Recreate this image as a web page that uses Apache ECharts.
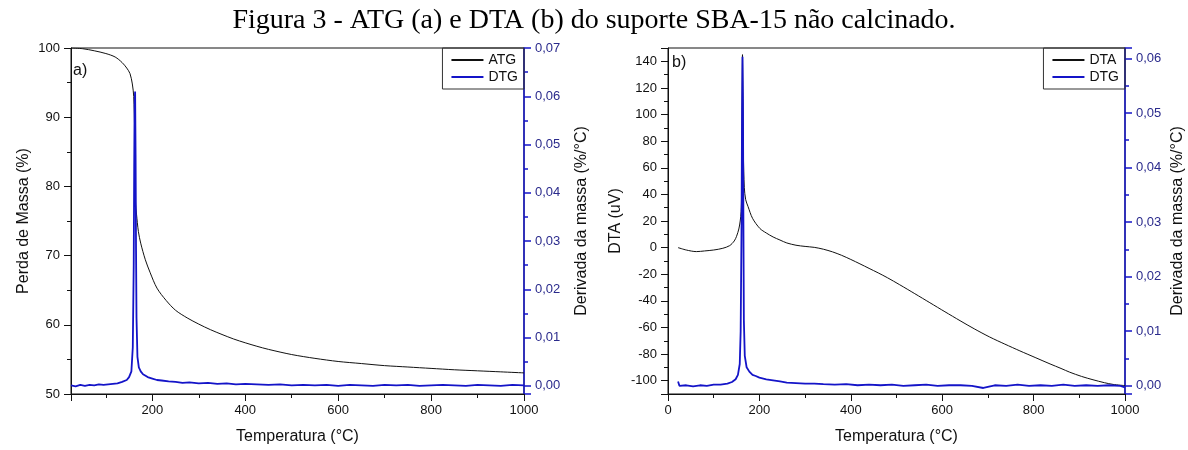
<!DOCTYPE html>
<html>
<head>
<meta charset="utf-8">
<script src="https://cdn.jsdelivr.net/npm/echarts@6/dist/echarts.min.js"></script>
<style>
html,body{margin:0;padding:0;background:#fff;}
#chart{width:1188px;height:450px;}
</style>
</head>
<body>
<div id="chart"></div>
<script>
// ---------- DATA ----------
const titleText = 'Figura 3 - ATG (a) e DTA (b) do suporte SBA-15 não calcinado.';

// (a) ATG curve
const atgTemp = [25, 50, 75, 100, 120, 135, 145, 152, 157, 160, 162, 163, 164, 166, 170, 175, 185, 195, 210, 230, 250, 275, 300, 325, 350, 375, 400, 425, 450, 500, 550, 600, 650, 700, 750, 800, 850, 900, 950, 1000];
const atgVal  = [100.0, 99.9, 99.6, 99.2, 98.7, 97.9, 97.1, 96.3, 94.8, 93.0, 88.0, 82.0, 77.5, 76.0, 73.5, 71.8, 69.4, 67.6, 65.3, 63.5, 62.1, 61.0, 60.1, 59.3, 58.6, 57.95, 57.4, 56.9, 56.45, 55.7, 55.15, 54.7, 54.4, 54.1, 53.9, 53.7, 53.5, 53.35, 53.2, 53.05];

// (a) DTG curve
const dtgATemp = [25, 35, 45, 55, 65, 75, 85, 95, 105, 115, 125, 135, 145, 150, 155, 158, 160, 161, 162, 163, 164, 165, 166, 168, 171, 175, 180, 190, 200, 210, 220, 235, 250, 265, 280, 300, 320, 340, 360, 380, 400, 425, 450, 475, 500, 525, 550, 575, 600, 625, 650, 675, 700, 725, 750, 775, 800, 825, 850, 875, 900, 925, 950, 975, 1000];
const dtgAVal  = [0.0001, -0.0001, 0.0002, 0.0000, 0.0002, 0.0001, 0.0003, 0.0002, 0.0003, 0.0004, 0.0005, 0.0008, 0.0012, 0.0018, 0.0030, 0.0080, 0.0250, 0.0450, 0.0590, 0.0610, 0.0480, 0.0280, 0.0140, 0.0060, 0.0038, 0.0030, 0.0024, 0.0018, 0.0015, 0.0012, 0.0011, 0.0009, 0.0008, 0.0006, 0.0007, 0.0005, 0.0006, 0.0004, 0.0005, 0.0003, 0.0004, 0.0003, 0.0002, 0.0003, 0.0001, 0.0002, 0.0001, 0.0002, 0.0000, 0.0002, 0.0001, 0.0000, 0.0002, 0.0001, 0.0002, 0.0000, 0.0001, 0.0002, 0.0001, 0.0000, 0.0002, 0.0001, 0.0000, 0.0002, 0.0001];

// (b) DTA curve
const dtaTemp = [22, 40, 62, 80, 100, 120, 135, 145, 150, 155, 158, 160, 161, 162, 163, 164, 165, 167, 170, 175, 185, 201, 215, 230, 245, 260, 280, 300, 320, 340, 360, 380, 400, 420, 440, 460, 480, 507, 540, 573, 606, 639, 670, 704, 737, 770, 805, 836, 860, 879, 905, 930, 955, 974, 1000];
const dtaVal  = [0.0, -1.8, -3.0, -2.5, -1.8, -0.5, 1.5, 5.0, 8.5, 14.0, 20.0, 27.0, 40.0, 90.0, 145.0, 110.0, 70.0, 45.0, 36.0, 31.0, 22.0, 14.4, 11.0, 8.0, 5.7, 3.5, 1.8, 0.9, 0.2, -1.2, -3.2, -5.8, -8.9, -12.2, -15.6, -19.0, -22.6, -27.9, -34.6, -41.4, -48.2, -54.9, -61.0, -67.2, -72.5, -77.6, -82.8, -87.4, -90.8, -93.6, -96.8, -99.3, -101.5, -102.8, -103.7];

// (b) DTG curve
const dtgBTemp = [22, 25, 40, 55, 70, 85, 100, 115, 130, 140, 148, 153, 157, 159, 161, 162, 163, 164, 165, 166, 168, 172, 178, 185, 192, 200, 215, 230, 245, 260, 280, 300, 320, 340, 365, 390, 415, 440, 465, 490, 515, 540, 565, 590, 615, 640, 665, 690, 715, 740, 765, 790, 815, 840, 865, 890, 915, 940, 965, 990, 1000];
const dtgBVal  = [0.0008, 0.0000, 0.0001, -0.0001, 0.0001, 0.0000, 0.0002, 0.0002, 0.0004, 0.0007, 0.0012, 0.0020, 0.0040, 0.0100, 0.0300, 0.0500, 0.0603, 0.0520, 0.0300, 0.0120, 0.0055, 0.0034, 0.0026, 0.0020, 0.0018, 0.0015, 0.0012, 0.0010, 0.0008, 0.0006, 0.0005, 0.0004, 0.0004, 0.0003, 0.0002, 0.0003, 0.0001, 0.0002, 0.0001, 0.0002, 0.0000, 0.0001, 0.0002, 0.0000, 0.0001, 0.0001, 0.0000, -0.0004, 0.0001, 0.0000, 0.0002, 0.0000, 0.0001, 0.0000, 0.0002, 0.0000, 0.0001, 0.0000, 0.0001, 0.0000, -0.0003];

// Axis labels / names
const xName = 'Temperatura (°C)';
const yNameA = 'Perda de Massa (%)';
const yNameB = 'DTA (uV)';
const y2Name = 'Derivada da massa (%/°C)';

// ---------- CHART ----------
const zip = (a, b) => a.map((t, i) => [t, b[i]]);
const FONT = '"Liberation Sans", Arial, sans-serif';
const BLUE = '#1414c8';
const BLUE_TXT = '#2a2a8c';
const BLACK = '#111';

const commaFmt = v => {
  const k = v / 0.01;
  if (Math.abs(k - Math.round(k)) > 1e-6) return '';
  return (Math.round(k) / 100).toFixed(2).replace('.', ',');
};

function xAxisCfg(grid, min, showFn) {
  return {
    type: 'value', gridIndex: grid, min: min, max: 1000,
    minInterval: 200, maxInterval: 200,
    name: xName, nameLocation: 'middle', nameGap: 35,
    nameTextStyle: { fontFamily: FONT, fontSize: 16, color: BLACK },
    axisLine: { show: true, onZero: false, lineStyle: { color: BLACK, width: 1 } },
    axisTick: { show: true, length: 7, lineStyle: { color: BLACK } },
    minorTick: { show: true, splitNumber: 2, length: 4, lineStyle: { color: BLACK } },
    splitLine: { show: false },
    axisLabel: { fontFamily: FONT, fontSize: 13, color: BLACK, margin: 10, formatter: showFn }
  };
}

function yLeftCfg(grid, min, max, step, name, gap, fmt) {
  return {
    type: 'value', gridIndex: grid, position: 'left', min: min, max: max,
    minInterval: step, maxInterval: step,
    name: name, nameLocation: 'middle', nameGap: gap, nameRotate: 90,
    nameTextStyle: { fontFamily: FONT, fontSize: 16, color: BLACK },
    axisLine: { show: true, onZero: false, lineStyle: { color: BLACK, width: 1 } },
    axisTick: { show: true, length: 7, lineStyle: { color: BLACK } },
    minorTick: { show: true, splitNumber: 2, length: 4, lineStyle: { color: BLACK } },
    splitLine: { show: false },
    axisLabel: { fontFamily: FONT, fontSize: 13, color: BLACK, margin: 11, formatter: fmt }
  };
}

function yRightCfg(grid, min, max, gap) {
  return {
    type: 'value', gridIndex: grid, position: 'right', min: min, max: max,
    minInterval: 0.01, maxInterval: 0.01,
    name: y2Name, nameLocation: 'middle', nameGap: gap, nameRotate: 90,
    nameTextStyle: { fontFamily: FONT, fontSize: 16, color: BLACK },
    axisLine: { show: true, onZero: false, lineStyle: { color: BLUE, width: 1.5 } },
    axisTick: { show: true, length: 7, lineStyle: { color: BLUE, width: 1.5 } },
    minorTick: { show: true, splitNumber: 2, length: 4, lineStyle: { color: BLUE, width: 1.5 } },
    splitLine: { show: false },
    axisLabel: { fontFamily: FONT, fontSize: 13, color: BLUE_TXT, margin: 11, formatter: commaFmt }
  };
}

const legendCfg = (right, names) => ({
  data: names, orient: 'vertical', right: right, top: 48,
  borderColor: '#333', borderWidth: 1, borderRadius: 0,
  padding: [5, 6, 5, 8], itemGap: 3, itemWidth: 32, itemHeight: 12,
  itemStyle: { opacity: 0 },
  textStyle: { fontFamily: FONT, fontSize: 14, color: BLACK },
  selectedMode: false
});

const chart = echarts.init(document.getElementById('chart'), null, { renderer: 'canvas' });
chart.setOption({
  animation: false,
  backgroundColor: '#fff',
  title: {
    text: titleText, left: 'center', top: 2,
    textStyle: { fontFamily: '"Liberation Serif", "Times New Roman", serif', fontSize: 28, fontWeight: 'normal', color: '#000' }
  },
  graphic: [
    { type: 'text', left: 73, top: 63, style: { text: 'a)', font: '16px "Liberation Sans", Arial, sans-serif', fill: BLACK } },
    { type: 'text', left: 672, top: 55, style: { text: 'b)', font: '16px "Liberation Sans", Arial, sans-serif', fill: BLACK } }
  ],
  legend: [
    legendCfg(1188 - 524, [{ name: 'ATG' }, { name: 'DTG' }]),
    legendCfg(1188 - 1125, [{ name: 'DTA' }, { name: 'DTG' }])
  ],
  grid: [
    { left: 71, right: 1188 - 524, top: 48, bottom: 450 - 396, show: true, borderColor: BLACK, borderWidth: 1, backgroundColor: 'transparent' },
    { left: 668, right: 1188 - 1125, top: 48, bottom: 450 - 396, show: true, borderColor: BLACK, borderWidth: 1, backgroundColor: 'transparent' }
  ],
  xAxis: [
    xAxisCfg(0, 25, v => (v % 200 === 0 ? String(v) : '')),
    xAxisCfg(1, 0, v => (v % 200 === 0 ? String(v) : ''))
  ],
  yAxis: [
    yLeftCfg(0, 50, 100, 10, yNameA, 39, v => (v % 10 === 0 ? String(v) : '')),
    yRightCfg(0, -0.0017, 0.07, 50),
    yLeftCfg(1, -110, 150, 20, yNameB, 44, v => (v % 20 === 0 ? String(v) : '')),
    yRightCfg(1, -0.0015, 0.0619, 45)
  ],
  series: [
    { name: 'ATG', type: 'line', xAxisIndex: 0, yAxisIndex: 0, data: zip(atgTemp, atgVal), symbol: 'none', smooth: 0.3, lineStyle: { color: BLACK, width: 1 }, itemStyle: { color: BLACK }, z: 2 },
    { name: 'DTG', type: 'line', xAxisIndex: 0, yAxisIndex: 1, data: zip(dtgATemp, dtgAVal), symbol: 'none', lineStyle: { color: BLUE, width: 1.8 }, itemStyle: { color: BLUE }, z: 3 },
    { name: 'DTA', type: 'line', xAxisIndex: 1, yAxisIndex: 2, data: zip(dtaTemp, dtaVal), symbol: 'none', smooth: 0.3, lineStyle: { color: BLACK, width: 1 }, itemStyle: { color: BLACK }, z: 2 },
    { name: 'DTG', type: 'line', xAxisIndex: 1, yAxisIndex: 3, data: zip(dtgBTemp, dtgBVal), symbol: 'none', lineStyle: { color: BLUE, width: 1.8 }, itemStyle: { color: BLUE }, z: 3 }
  ]
});
</script>
</body>
</html>
